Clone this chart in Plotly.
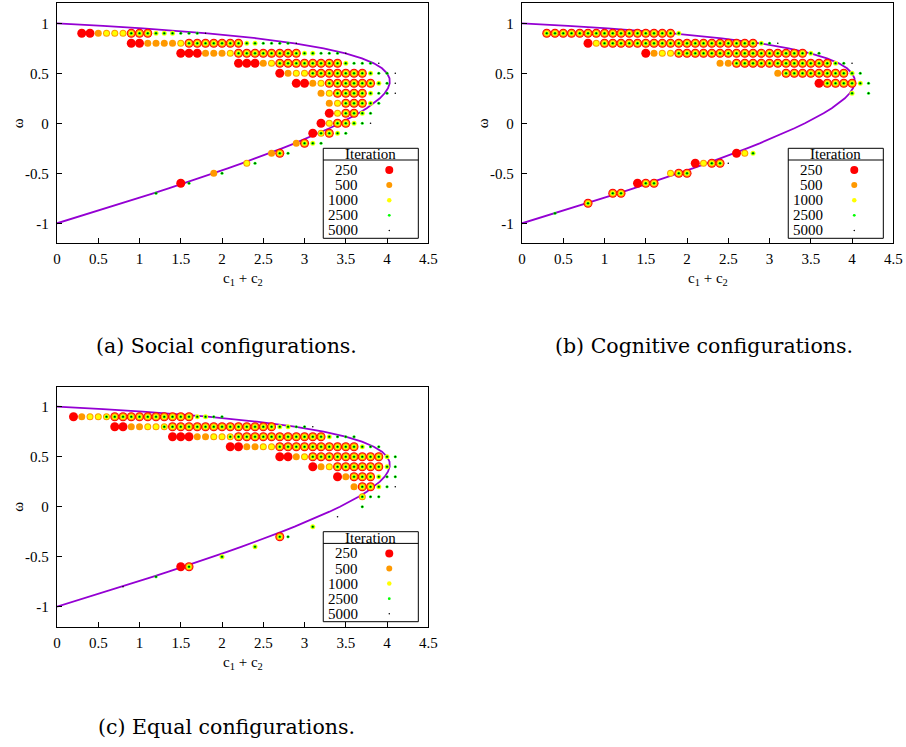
import plotly.graph_objects as go

# ---------------- data ----------------
ITERATIONS = [250, 500, 1000, 2500, 5000]
LEVEL_COLORS = ["#ff0000", "#ff9900", "#ffff00", "#00ff00", "#000000"]

# code letter -> which iteration budgets contain that (c1+c2, omega) configuration
CODE_LEVELS = {
    "R": [0], "O": [1], "o": [1, 2], "Y": [2],
    "F": [0, 1, 2, 3, 4], "f": [1, 2, 3, 4], "y": [2, 3, 4],
    "G": [3, 4], "K": [4], ".": [],
}
C_STEP = 0.1  # grid spacing of c1 + c2

# rows: (omega, first c1+c2 of the row, membership codes along the row)
SOCIAL_ROWS = [
    (0.9, 0.3, "RROoooFFFyyyGGGK"),
    (0.8, 0.9, "RROOOOoFFFFFFFyyGGGGK"),
    (0.7, 1.5, "RRROOOoFFFFFFFFyyGGGK"),
    (0.6, 2.2, "RRROoFFFFFFFFyGGGK"),
    (0.5, 2.7, "ROooFFFFFFFyGGK"),
    (0.4, 2.9, "RROoFFFFFFyGK"),
    (0.3, 3.2, "OoFFFFyGGK"),
    (0.2, 3.3, "OoFFFyG"),
    (0.1, 3.3, "RoFFyG"),
    (0.0, 3.2, "RoFFyGK"),
    (-0.1, 3.1, "RfFyG"),
    (-0.2, 2.9, "OFyG"),
    (-0.3, 2.6, "OFG"),
    (-0.4, 2.3, "oG"),
    (-0.5, 1.9, "OG"),
    (-0.6, 1.5, "RG"),
    (-0.7, 1.2, "G"),
]

COGNITIVE_ROWS = [
    (0.9, 0.3, "FFFFFFFFFFFFFFFFy"),
    (0.8, 0.8, "RoFFFFFFFFFFFFFFFFFFFyGK"),
    (0.7, 1.5, "ROooFFFFFFFFFFFFFFFFyG"),
    (0.6, 2.4, "OOFFFFFFFFFFFFyGK"),
    (0.5, 3.1, "OFFFFFFFFyG"),
    (0.4, 3.6, "RFFFFyG"),
    (0.3, 4.0, "y.G"),
    (-0.3, 2.6, "Roy"),
    (-0.4, 2.1, "RoFFK"),
    (-0.5, 1.8, "oFF"),
    (-0.6, 1.4, "RFF"),
    (-0.7, 1.1, "FF"),
    (-0.8, 0.8, "F"),
    (-0.9, 0.4, "G"),
]

EQUAL_ROWS = [
    (0.9, 0.2, "ROoofFFFFFFFFFFyyGG"),
    (0.8, 0.7, "RROOoofFFFFFFFFFFFFFyyGGK"),
    (0.7, 1.4, "RRROOoofFFFFFFFFFFFyGGG"),
    (0.6, 2.1, "RROOooFFFFFFFFFFyGG"),
    (0.5, 2.7, "RROoFFFFFFFFFyG"),
    (0.4, 3.1, "ROoFFFFFFyG"),
    (0.3, 3.4, "ROFFFyGG"),
    (0.2, 3.6, "OFFyGK"),
    (0.1, 3.7, "fGG"),
    (0.0, 3.7, "G"),
    (-0.1, 3.4, "K"),
    (-0.2, 3.1, "y"),
    (-0.3, 2.7, "FG"),
    (-0.4, 2.4, "y"),
    (-0.5, 2.0, "y"),
    (-0.6, 1.5, "RF"),
    (-0.7, 1.2, "G"),
    (-0.8, 0.8, "K"),
]

# stability boundary curve (c1 + c2 as a function of omega)
OMEGA_CURVE = [-1.0, -0.95, -0.9, -0.85, -0.8, -0.75, -0.7, -0.65, -0.6, -0.55,
               -0.5, -0.45, -0.4, -0.35, -0.3, -0.25, -0.2, -0.15, -0.1, -0.05,
               0.0, 0.05, 0.1, 0.15, 0.2, 0.25, 0.3, 0.35, 0.4, 0.45,
               0.5, 0.55, 0.6, 0.65, 0.7, 0.75, 0.8, 0.85, 0.9, 0.925, 0.95, 0.975, 1.0]
C_CURVE = [0.0, 0.199, 0.397, 0.592, 0.785, 0.977, 1.166, 1.352, 1.536, 1.717,
           1.895, 2.069, 2.240, 2.407, 2.569, 2.727, 2.880, 3.027, 3.168, 3.302,
           3.429, 3.547, 3.655, 3.754, 3.840, 3.913, 3.971, 4.011, 4.032, 4.030,
           4.000, 3.939, 3.840, 3.696, 3.497, 3.231, 2.880, 2.422, 1.824, 1.459, 1.040, 0.558, 0.0]

X_TICKS = [0, 0.5, 1, 1.5, 2, 2.5, 3, 3.5, 4, 4.5]
X_TICK_TEXT = ["0", "0.5", "1", "1.5", "2", "2.5", "3", "3.5", "4", "4.5"]
Y_TICKS = [-1, -0.5, 0, 0.5, 1]
Y_TICK_TEXT = ["-1", "-0.5", "0", "0.5", "1"]

CAPTIONS = ["(a) Social configurations.", "(b) Cognitive configurations.",
            "(c) Equal configurations."]
LEGEND_TITLE = "Iteration"

# ---------------- layout constants ----------------
W, H = 906, 747
MARKER_SIZES = [9.0, 7.0, 5.0, 3.1, 1.6]
LEGEND_KEY_SIZES = [8.0, 6.0, 4.5, 2.8, 1.5]
SERIF = "Liberation Serif"
CAPTION_FONT = "DejaVu Serif"

# panel pixel boxes: (left, right, top, bottom)
PANELS = [
    (57.0, 428.3, 3.3, 243.3),
    (522.0, 893.3, 3.3, 243.3),
    (57.0, 428.3, 386.7, 626.7),
]
CAPTION_POS = [(226, 346), (704, 346), (226, 727)]


def px_x(p):
    return p / W


def px_y(p):
    return 1 - p / H


fig = go.Figure()

datasets = [SOCIAL_ROWS, COGNITIVE_ROWS, EQUAL_ROWS]
for k, rows in enumerate(datasets):
    sfx = "" if k == 0 else str(k + 1)
    xa, ya = "x" + sfx, "y" + sfx
    fig.add_trace(go.Scatter(x=C_CURVE, y=OMEGA_CURVE, mode="lines",
                             line=dict(color="#9400d3", width=1.8),
                             xaxis=xa, yaxis=ya, showlegend=False, hoverinfo="skip"))
    xs = [[] for _ in ITERATIONS]
    ys = [[] for _ in ITERATIONS]
    for omega, c0, codes in rows:
        for i, ch in enumerate(codes):
            c = round(c0 + i * C_STEP, 2)
            for lv in CODE_LEVELS[ch]:
                xs[lv].append(c)
                ys[lv].append(omega)
    for lv, it in enumerate(ITERATIONS):
        fig.add_trace(go.Scatter(x=xs[lv], y=ys[lv], mode="markers", name=str(it),
                                 marker=dict(size=MARKER_SIZES[lv], color=LEVEL_COLORS[lv],
                                             line=dict(width=0)),
                                 xaxis=xa, yaxis=ya, showlegend=False, hoverinfo="skip"))

axis_common = dict(showline=True, linecolor="black", linewidth=1.3, mirror=True,
                   ticks="inside", ticklen=5, tickwidth=1, tickcolor="black",
                   showgrid=False, zeroline=False, automargin=False,
                   tickfont=dict(family=SERIF, size=15, color="black"))

layout = dict(width=W, height=H,
              margin=dict(l=0, r=0, t=0, b=0, pad=0, autoexpand=False),
              paper_bgcolor="white", plot_bgcolor="white", showlegend=False)
shapes = []
annotations = []


def text_ann(text, x, y, size, family=SERIF, **kw):
    d = dict(text=text, x=x, y=y, showarrow=False, xanchor="center", yanchor="middle",
             font=dict(family=family, size=size, color="black"))
    d.update(kw)
    return d


for k, (l, r, t, b) in enumerate(PANELS):
    sfx = "" if k == 0 else str(k + 1)
    layout["xaxis" + sfx] = dict(axis_common, domain=[px_x(l), px_x(r)], range=[0, 4.5],
                                 tickvals=X_TICKS, ticktext=X_TICK_TEXT,
                                 anchor="y" + sfx, ticklabelstandoff=2)
    layout["yaxis" + sfx] = dict(axis_common, domain=[px_y(b), px_y(t)], range=[-1.2, 1.2],
                                 tickvals=Y_TICKS, ticktext=Y_TICK_TEXT,
                                 anchor="x" + sfx, ticklabelstandoff=4)
    xr, yr = "x" + sfx, "y" + sfx
    # axis titles
    annotations.append(text_ann("ω", px_x(l - 39), px_y((t + b) / 2), 15,
                                xref="paper", yref="paper", textangle=-90))
    annotations.append(text_ann("c<sub>1</sub> + c<sub>2</sub>", px_x((l + r) / 2),
                                px_y(b + 36), 15, xref="paper", yref="paper"))
    # caption
    cx, cy = CAPTION_POS[k]
    annotations.append(text_ann(CAPTIONS[k], px_x(cx), px_y(cy), 20.5, family=CAPTION_FONT,
                                xref="paper", yref="paper"))
    # legend box
    lx0, lx1, ly0, ly1 = 3.227, 4.379, -1.15, -0.25
    shapes.append(dict(type="rect", xref=xr, yref=yr, x0=lx0, x1=lx1, y0=ly0, y1=ly1,
                       line=dict(color="black", width=1), fillcolor="white", layer="above"))
    shapes.append(dict(type="line", xref=xr, yref=yr, x0=lx0, x1=lx1, y0=-0.367, y1=-0.367,
                       line=dict(color="black", width=1), layer="above"))
    annotations.append(text_ann(LEGEND_TITLE, 3.80, -0.312, 15, xref=xr, yref=yr))
    for lv, it in enumerate(ITERATIONS):
        ry = -0.467 - lv * 0.151
        annotations.append(text_ann(str(it), 3.675, ry, 15, xref=xr, yref=yr,
                                    xanchor="right"))
        d = LEGEND_KEY_SIZES[lv] / 2
        shapes.append(dict(type="circle", xref=xr, yref=yr, xsizemode="pixel",
                           ysizemode="pixel", xanchor=4.027, yanchor=ry,
                           x0=-d, x1=d, y0=-d, y1=d, fillcolor=LEVEL_COLORS[lv],
                           line=dict(width=0), layer="above"))

layout["shapes"] = shapes
layout["annotations"] = annotations
fig.update_layout(**layout)

fig.write_html("out.html", config={"displayModeBar": False},
               post_script="document.body.style.margin='0';document.body.style.padding='0';"
                           "document.body.style.overflow='hidden';")
